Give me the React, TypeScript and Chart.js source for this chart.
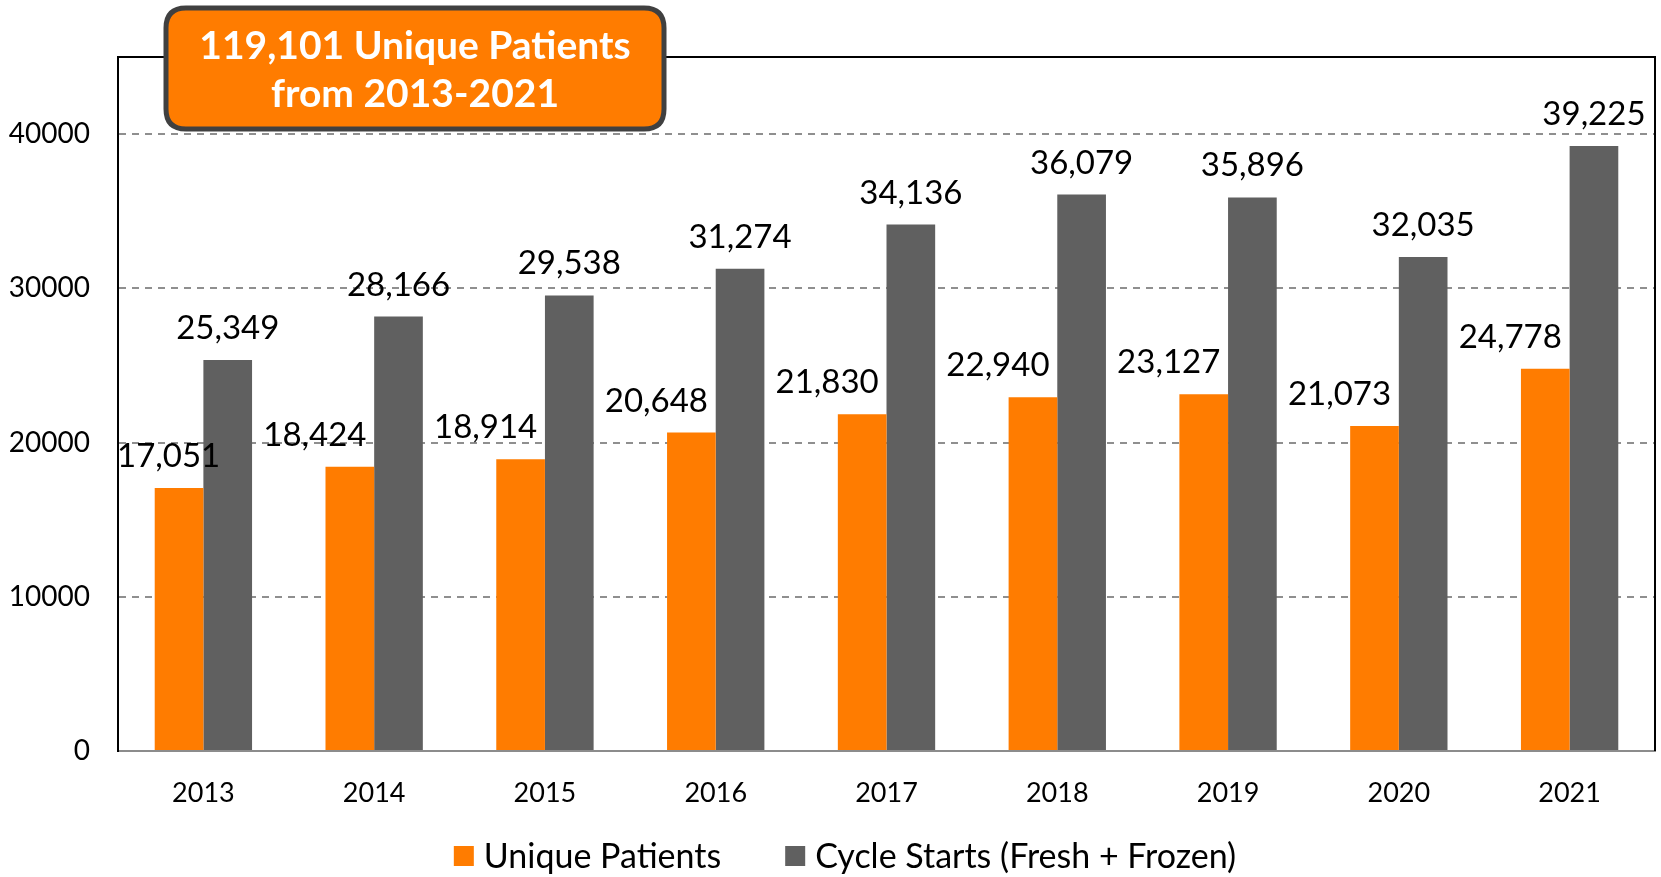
import React, { useEffect, useRef } from "react";
import { Chart, registerables } from "chart.js";

Chart.register(...registerables);

const years = ["2013", "2014", "2015", "2016", "2017", "2018", "2019", "2020", "2021"];
const uniquePatients = [17051, 18424, 18914, 20648, 21830, 22940, 23127, 21073, 24778];
const cycleStarts = [25349, 28166, 29538, 31274, 34136, 36079, 35896, 32035, 39225];
const seriesNames = ["Unique Patients", "Cycle Starts (Fresh + Frozen)"];
const titleLines = ["119,101 Unique Patients", "from 2013-2021"];
const yTickValues = [0, 10000, 20000, 30000, 40000];

const ORANGE = "#FF7C00";
const GRAY = "#606060";
const FONT = "Lato, 'Open Sans', sans-serif";

const frameAndLabels = {
  id: "frameAndLabels",
  afterDatasetsDraw(chart: any) {
    const ctx = chart.ctx;
    const area = chart.chartArea;
    ctx.save();
    // top and right frame
    ctx.setLineDash([]);
    ctx.strokeStyle = "#000";
    ctx.lineWidth = 2;
    ctx.beginPath();
    ctx.moveTo(area.left, area.top);
    ctx.lineTo(area.right, area.top);
    ctx.lineTo(area.right, area.bottom);
    ctx.stroke();

    // data labels
    ctx.font = `33px ${FONT}`;
    ctx.fillStyle = "#000";
    ctx.textAlign = "center";
    ctx.textBaseline = "alphabetic";
    chart.data.datasets.forEach((ds: any, di: number) => {
      const meta = chart.getDatasetMeta(di);
      meta.data.forEach((el: any, i: number) => {
        const text = Number(ds.data[i]).toLocaleString("en-US");
        const w = ctx.measureText(text).width;
        let x = el.x + (di === 0 ? -35 : 0);
        if (x - w / 2 < area.left - 1) x = area.left - 1 + w / 2;
        ctx.fillText(text, x, el.y - 21);
      });
    });
    ctx.restore();
  },
  afterDraw(chart: any) {
    const ctx = chart.ctx;
    ctx.save();
    ctx.setLineDash([]);
    // title box
    const bx = 166, by = 8, bw = 498, bh = 121, r = 20;
    ctx.beginPath();
    ctx.moveTo(bx + r, by);
    ctx.lineTo(bx + bw - r, by);
    ctx.quadraticCurveTo(bx + bw, by, bx + bw, by + r);
    ctx.lineTo(bx + bw, by + bh - r);
    ctx.quadraticCurveTo(bx + bw, by + bh, bx + bw - r, by + bh);
    ctx.lineTo(bx + r, by + bh);
    ctx.quadraticCurveTo(bx, by + bh, bx, by + bh - r);
    ctx.lineTo(bx, by + r);
    ctx.quadraticCurveTo(bx, by, bx + r, by);
    ctx.closePath();
    ctx.fillStyle = ORANGE;
    ctx.fill();
    ctx.lineWidth = 5;
    ctx.strokeStyle = "#404040";
    ctx.stroke();
    ctx.fillStyle = "#fff";
    ctx.font = `bold 39px ${FONT}`;
    ctx.textAlign = "center";
    ctx.textBaseline = "alphabetic";
    ctx.fillText(titleLines[0], bx + bw / 2, 59);
    ctx.fillText(titleLines[1], bx + bw / 2, 107);

    // legend
    ctx.font = `34px ${FONT}`;
    ctx.textBaseline = "middle";
    ctx.textAlign = "left";
    const colors = [ORANGE, GRAY];
    const box = 20, gapBT = 10, gapItem = 64;
    const widths = seriesNames.map((s) => ctx.measureText(s).width);
    const total = widths.reduce((a, b) => a + b, 0) + 2 * (box + gapBT) + gapItem;
    let x = 845 - total / 2;
    const cy = 856;
    seriesNames.forEach((s, i) => {
      ctx.fillStyle = colors[i];
      ctx.fillRect(x, cy - box / 2, box, box);
      x += box + gapBT;
      ctx.fillStyle = "#000";
      ctx.fillText(s, x, cy + 1);
      x += widths[i] + gapItem;
    });
    ctx.restore();
  },
};

export default function App() {
  const ref = useRef<HTMLCanvasElement>(null);
  useEffect(() => {
    document.body.style.margin = "0";
    const chart = new Chart(ref.current as HTMLCanvasElement, {
      type: "bar",
      data: {
        labels: years,
        datasets: [
          {
            label: seriesNames[0],
            data: uniquePatients,
            backgroundColor: ORANGE,
            categoryPercentage: 0.57,
            barPercentage: 1.0,
          },
          {
            label: seriesNames[1],
            data: cycleStarts,
            backgroundColor: GRAY,
            categoryPercentage: 0.57,
            barPercentage: 1.0,
          },
        ],
      },
      options: {
        responsive: false,
        animation: false,
        devicePixelRatio: 1,
        layout: { padding: { top: 57, right: 6, bottom: 0, left: 0 } },
        plugins: {
          legend: { display: false },
          tooltip: { enabled: false },
          title: { display: false },
        },
        scales: {
          x: {
            grid: { display: false },
            border: { display: true, color: "#8c8c8c", width: 2 },
            ticks: {
              color: "#000",
              font: { family: FONT, size: 27 },
              padding: 18,
              maxRotation: 0,
            },
            afterFit(scale: any) {
              scale.height = 126;
            },
          },
          y: {
            min: 0,
            max: 45000,
            afterBuildTicks(scale: any) {
              scale.ticks = yTickValues.map((v) => ({ value: v }));
            },
            afterFit(scale: any) {
              scale.width = 118;
            },
            grid: {
              drawTicks: false,
              color: (c: any) => (c.tick && c.tick.value === 0 ? "rgba(0,0,0,0)" : "#8f8f8f"),
              lineWidth: 2,
            },
            border: { display: true, color: "#000", width: 2, dash: [7, 6] },
            ticks: {
              color: "#000",
              font: { family: FONT, size: 28 },
              padding: 28,
              callback: (v: any) => String(v),
            },
          },
        },
      },
      plugins: [frameAndLabels],
    } as any);
    return () => chart.destroy();
  }, []);
  return (
    <div style={{ position: "absolute", left: 0, top: 0, width: 1661, height: 877, background: "#fff" }}>
      <canvas ref={ref} width={1661} height={877} />
    </div>
  );
}
